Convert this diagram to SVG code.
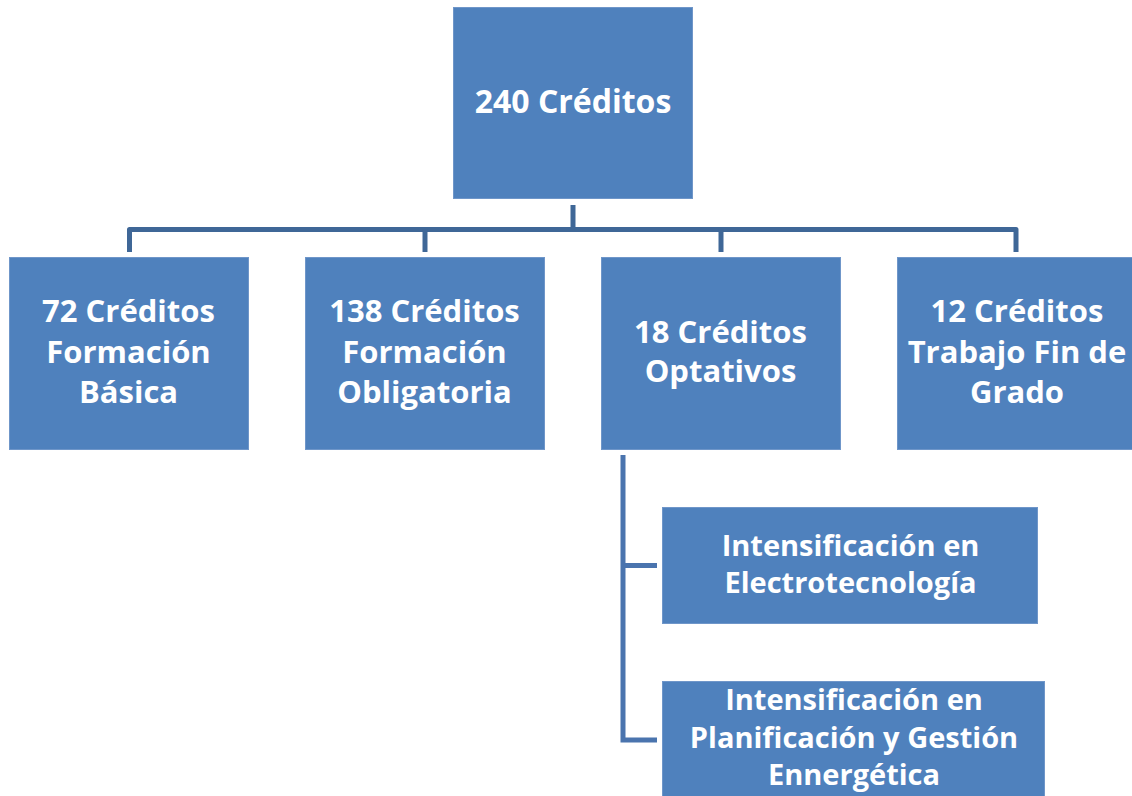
<svg xmlns="http://www.w3.org/2000/svg" width="1132" height="796" viewBox="0 0 1132 796">
<style>
.box{fill:#4F81BD;stroke:#6F96C9;stroke-width:1}
.t{font-family:"Open Sans","Liberation Sans",sans-serif;font-weight:bold;fill:#FFFFFF;text-anchor:middle}
.t32{font-size:32px}
.t31{font-size:31px}
.t29{font-size:29px}
.c1{fill:none;stroke:#3F6797;stroke-width:5;stroke-linejoin:round}
.c2{fill:none;stroke:#4A74AE;stroke-width:5;stroke-linejoin:miter}
</style>
<rect width="1132" height="796" fill="#FFFFFF"/>
<g id="connectors">
<line class="c1" x1="573" y1="205" x2="573" y2="229.5"/>
<path class="c1" d="M129.5 252 V229.5 H1016 V252"/>
<line class="c1" x1="425" y1="229.5" x2="425" y2="252"/>
<line class="c1" x1="721" y1="229.5" x2="721" y2="252"/>
<path class="c2" d="M623 455 V740 H657"/>
<line class="c2" x1="623" y1="565.5" x2="657" y2="565.5"/>
</g>
<g id="n0">
<rect class="box" x="453.5" y="7.5" width="239" height="191"/>
<text class="t t32" x="573" y="113">240 Créditos</text>
</g>
<g id="n1">
<rect class="box" x="9.5" y="257.5" width="239" height="192"/>
<text class="t t31" x="128.5" y="322">72 Créditos</text>
<text class="t t31" x="128.5" y="362.5">Formación</text>
<text class="t t31" x="128.5" y="403">Básica</text>
</g>
<g id="n2">
<rect class="box" x="305.5" y="257.5" width="239" height="192"/>
<text class="t t31" x="424.5" y="322">138 Créditos</text>
<text class="t t31" x="424.5" y="362.5">Formación</text>
<text class="t t31" x="424.5" y="403">Obligatoria</text>
</g>
<g id="n3">
<rect class="box" x="601.5" y="257.5" width="239" height="192"/>
<text class="t t31" x="720.5" y="342.5">18 Créditos</text>
<text class="t t31" x="720.5" y="382">Optativos</text>
</g>
<g id="n4">
<rect class="box" x="897.5" y="257.5" width="239" height="192"/>
<text class="t t31" x="1017" y="322">12 Créditos</text>
<text class="t t31" x="1017" y="362.5">Trabajo Fin de</text>
<text class="t t31" x="1017" y="403">Grado</text>
</g>
<g id="n5">
<rect class="box" x="662.5" y="507.5" width="375" height="116"/>
<text class="t t29" x="850.5" y="555.5">Intensificación en</text>
<text class="t t29" x="850.5" y="592.5">Electrotecnología</text>
</g>
<g id="n6">
<rect class="box" x="662.5" y="681.5" width="382" height="120"/>
<text class="t t29" x="854" y="710">Intensificación en</text>
<text class="t t29" x="854" y="747.5">Planificación y Gestión</text>
<text class="t t29" x="854" y="785">Ennergética</text>
</g>
</svg>
